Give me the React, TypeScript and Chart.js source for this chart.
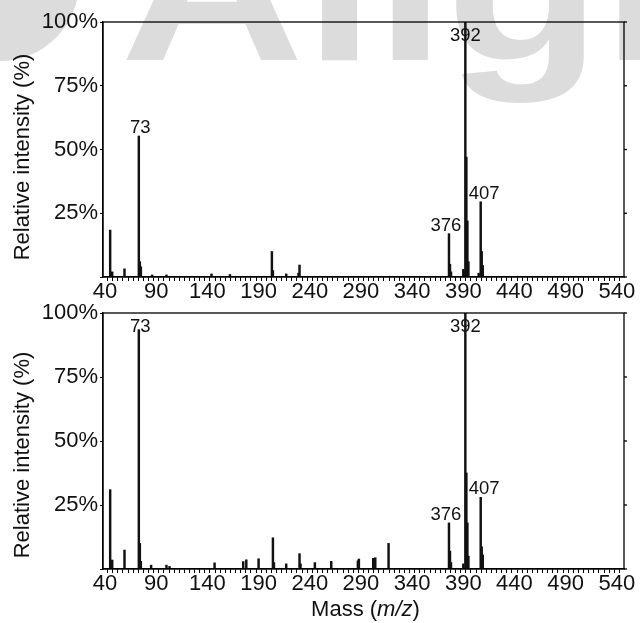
import React, { useEffect, useRef } from "react";
import { Chart, registerables } from "chart.js";

Chart.register(...registerables);

// ---------- data ----------
const X_MIN = 38;
const X_MAX = 547;
const X_TICK_LABELS = [40, 90, 140, 190, 240, 290, 340, 390, 440, 490, 540];
const X_MINOR_STEP = 5;
const Y_TICKS = [0, 25, 50, 75, 100];

const TOP_MZ = [45, 47, 59, 73, 74, 75, 86, 100, 144, 162, 203, 204, 217, 229, 230, 376, 377, 378, 390, 391, 392, 393, 394, 395, 405, 407, 408, 409];
const TOP_INTENSITY = [18.4, 2, 3.2, 55.3, 6, 4, 0.8, 0.8, 1.2, 1.0, 10, 2.5, 1.2, 1.5, 4.7, 17, 5, 2, 3, 2, 100, 47, 22, 6, 1.5, 29.5, 10, 4.5];

const BOTTOM_MZ = [45, 47, 59, 73, 74, 75, 85, 100, 103, 147, 175, 178, 190, 204, 205, 217, 230, 231, 245, 261, 287, 288, 302, 304, 317, 376, 377, 378, 390, 392, 393, 394, 395, 407, 408, 409];
const BOTTOM_INTENSITY = [31, 3.5, 7.4, 93.5, 10, 3, 1.5, 1.5, 1, 2.4, 2.9, 3.6, 4, 12.2, 2.5, 2, 6, 2, 2.5, 3, 3.2, 3.9, 4.2, 4.4, 10, 18, 7, 2.5, 2, 100, 37.5, 18, 5, 28, 8.7, 5.5];

const LABELED_PEAKS = [73, 376, 392, 407];
const Y_TITLE = "Relative intensity (%)";

// ---------- style ----------
const FONT = '"Liberation Sans", Arial, Helvetica, sans-serif';
const TEXT = "#111";
const LABEL_DX: Record<number, number> = { 73: 1.5, 376: -3, 392: 0, 407: 3.5 };

type PanelOpts = {
  mz: number[];
  intensity: number[];
  topPad: number;
  xAxisHeight: number;
  titleShift: number;
  watermark: boolean;
};

function makePlugin(o: PanelOpts) {
  return {
    id: "panelDecor",
    beforeDraw(chart: any) {
      if (!o.watermark) return;
      const ctx = chart.ctx;
      ctx.save();
      ctx.fillStyle = "#dcdcdc";
      ctx.beginPath();
      ctx.arc(0, -18, 79, 0, Math.PI * 2);
      ctx.fill();
      ctx.translate(120, 60);
      ctx.scale(1, 0.8);
      ctx.font = `bold 255px ${FONT}`;
      ctx.textBaseline = "alphabetic";
      ctx.textAlign = "left";
      ctx.fillText("Align", 0, 0);
      ctx.restore();
    },
    afterDraw(chart: any) {
      const { ctx, chartArea: a, scales } = chart;
      ctx.save();
      ctx.strokeStyle = "#000";
      ctx.lineWidth = 1.3;
      ctx.strokeRect(a.left, a.top, a.right - a.left, a.bottom - a.top);
      Y_TICKS.forEach((v) => {
        const y = scales.y.getPixelForValue(v);
        ctx.beginPath();
        ctx.moveTo(a.right, y);
        ctx.lineTo(a.right + 3, y);
        ctx.stroke();
      });
      ctx.fillStyle = TEXT;
      ctx.font = `18.5px ${FONT}`;
      ctx.textAlign = "center";
      ctx.textBaseline = "alphabetic";
      LABELED_PEAKS.forEach((m) => {
        const i = o.mz.indexOf(m);
        if (i < 0) return;
        const x = scales.x.getPixelForValue(m) + (LABEL_DX[m] || 0);
        const y = Math.max(scales.y.getPixelForValue(o.intensity[i]) - 3, a.top + 19);
        ctx.fillText(String(m), x, y);
      });
      // y title
      ctx.font = `22px ${FONT}`;
      ctx.translate(29, (a.top + a.bottom) / 2 + o.titleShift);
      ctx.rotate(-Math.PI / 2);
      ctx.textAlign = "center";
      ctx.fillText(Y_TITLE, 0, 0);
      ctx.restore();
    },
  };
}

function makeConfig(o: PanelOpts): any {
  return {
    type: "bar",
    data: {
      datasets: [
        {
          data: o.mz.map((m, i) => ({ x: m, y: o.intensity[i] })),
          backgroundColor: "#111",
          borderWidth: 0,
          barThickness: 1.8,
        },
      ],
    },
    options: {
      animation: false,
      responsive: false,
      layout: { padding: { left: 0, right: 16, top: o.topPad, bottom: 0 } },
      plugins: { legend: { display: false }, tooltip: { enabled: false } },
      scales: {
        x: {
          type: "linear",
          min: X_MIN,
          max: X_MAX,
          offset: false,
          afterBuildTicks: (s: any) => {
            const t: { value: number }[] = [];
            for (let v = X_TICK_LABELS[0]; v <= X_MAX - 1; v += X_MINOR_STEP) t.push({ value: v });
            s.ticks = t;
          },
          afterFit: (s: any) => {
            s.height = o.xAxisHeight;
          },
          ticks: {
            autoSkip: false,
            maxRotation: 0,
            minRotation: 0,
            padding: -2,
            color: TEXT,
            font: { family: FONT, size: 22 },
            callback: (v: number) => (X_TICK_LABELS.includes(v) ? String(v) : ""),
          },
          grid: { drawOnChartArea: false, drawTicks: true, tickLength: 4, color: "#000", tickWidth: 1 },
          border: { display: true, color: "#000", width: 1.3 },
        },
        y: {
          type: "linear",
          min: 0,
          max: 100,
          afterBuildTicks: (s: any) => {
            s.ticks = Y_TICKS.map((v) => ({ value: v }));
          },
          afterFit: (s: any) => {
            s.width = 103;
          },
          ticks: {
            padding: 2,
            color: TEXT,
            font: { family: FONT, size: 22 },
            callback: (v: number) => (v === 0 ? "" : `${v}%`),
          },
          grid: { drawOnChartArea: false, drawTicks: true, tickLength: 3, color: "#000" },
          border: { display: true, color: "#000", width: 1.3 },
        },
      },
    },
    plugins: [makePlugin(o)],
  };
}

export default function App() {
  const topRef = useRef<HTMLCanvasElement>(null);
  const botRef = useRef<HTMLCanvasElement>(null);

  useEffect(() => {
    const c1 = new Chart(
      topRef.current!,
      makeConfig({ mz: TOP_MZ, intensity: TOP_INTENSITY, topPad: 22, xAxisHeight: 33, titleShift: 7.5, watermark: true })
    );
    const c2 = new Chart(
      botRef.current!,
      makeConfig({ mz: BOTTOM_MZ, intensity: BOTTOM_INTENSITY, topPad: 23, xAxisHeight: 54, titleShift: 14, watermark: false })
    );
    return () => {
      c1.destroy();
      c2.destroy();
    };
  }, []);

  return (
    <div
      style={{
        position: "absolute",
        left: 0,
        top: 0,
        width: 640,
        height: 623,
        background: "#fff",
        overflow: "hidden",
        fontFamily: FONT,
      }}
    >
      <canvas ref={topRef} width={640} height={310} style={{ position: "absolute", left: 0, top: 0, width: 640, height: 310 }} />
      <canvas ref={botRef} width={640} height={333} style={{ position: "absolute", left: 0, top: 290, width: 640, height: 333 }} />
      <div
        style={{
          position: "absolute",
          left: 0,
          top: 598,
          width: 731,
          textAlign: "center",
          fontSize: 22,
          lineHeight: "22px",
          color: TEXT,
          whiteSpace: "nowrap",
        }}
      >
        Mass (<i>m/z</i>)
      </div>
    </div>
  );
}
